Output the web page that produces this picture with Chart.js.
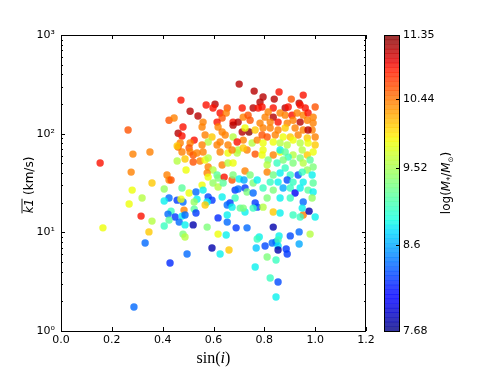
<!DOCTYPE html>
<html>
<head>
<meta charset="utf-8">
<script src="https://cdn.jsdelivr.net/npm/chart.js@4.4.0/dist/chart.umd.min.js"></script>
<style>
  html, body { margin: 0; padding: 0; background: #fff; }
  canvas { display: block; }
</style>
</head>
<body>
<canvas id="chart" width="491" height="368"></canvas>
<script>
// sin(i), mean k1 (km/s) and log(M*/Msun) for each galaxy
const sinI = [
  0.472,0.508,0.539,0.425,0.445,0.480,0.264,0.461,0.476,0.524,
  0.508,0.469,0.461,0.504,0.457,0.350,0.283,0.476,0.508,0.520,
  0.535,0.154,0.488,0.457,0.547,0.276,0.492,0.417,0.425,0.433,
  0.358,0.280,0.406,0.476,0.504,0.531,0.319,0.425,0.406,0.268,
  0.457,0.480,0.472,0.535,0.524,0.315,0.358,0.433,0.484,0.524,
  0.531,0.421,0.449,0.476,0.488,0.425,0.465,0.488,0.520,0.406,
  0.165,0.346,0.480,0.488,0.331,0.496,0.429,0.287,
  0.567,0.520,0.579,0.598,0.575,0.614,
  0.575,0.618,0.650,0.689,0.732,0.835,0.594,0.661,0.626,0.780,
  0.772,0.768,0.803,0.831,0.846,0.858,0.854,0.854,0.854,0.886,
  0.890,0.902,0.937,0.937,0.980,0.811,0.846,0.764,0.823,0.854,
  0.846,0.953,0.976,
  0.559,0.626,0.657,0.693,0.732,0.764,0.579,0.634,0.657,0.677,
  0.579,0.618,0.642,0.673,0.677,0.701,0.720,0.724,0.744,0.756,
  0.772,0.555,0.559,0.598,0.618,0.638,0.685,0.697,0.724,0.732,
  0.756,0.579,0.594,0.575,0.567,0.634,0.685,0.665,0.654,0.673,
  0.705,0.724,0.764,0.772,0.756,0.618,0.654,0.654,
  0.717,
  0.791,0.835,0.815,0.862,0.913,0.969,0.992,0.894,0.941,0.811,
  0.811,0.850,0.874,0.882,0.913,0.953,0.980,0.992,0.969,0.835,
  0.862,0.902,0.933,0.949,0.988,0.823,0.854,0.890,0.913,0.953,
  0.992,0.795,0.835,0.874,0.902,0.921,0.941,0.972,0.992,0.811,
  0.862,0.902,0.953,0.988,0.795,0.835,0.862,0.913,0.949,
  1.0,0.941,
  0.701,0.760,0.571,0.606,0.598,0.654,0.626,0.650,0.713,0.756,
  0.776,0.677,0.697,0.717,0.736,0.744,0.634,0.614,0.559,0.555,
  0.677,0.713,0.740,0.764,0.724,0.618,0.634,0.646,0.567,0.594,
  0.677,0.717,0.752,0.772,0.579,0.614,0.626,0.657,0.693,0.697,
  0.673,0.717,0.555,0.858,0.953,0.795,0.839,0.906,0.937,
  0.783,0.791,0.835,0.882,0.894,0.961,1.0,0.803,0.815,0.835,
  0.862,0.882,0.909,0.929,0.953,0.972,0.992,0.783,0.823,0.854,
  0.890,0.913,0.941,0.969,0.992,0.795,0.823,0.854,0.882,0.921,
  0.953,0.988,0.791,0.811,0.843,0.874,0.902,0.933,0.969,1.0,
  0.795,0.835,0.862,0.890,0.913,0.941,0.972,1.0,0.795,0.862,
  0.882,0.949,
  0.972,0.941
];
const k1 = [
  219,169,151,137,144,117,109,101,94.6,86.1,
  80.3,80.3,73.1,71.5,74.9,65.1,62.1,65.1,65.1,60.7,
  63.6,50.4,55.3,52.8,52.8,40.8,42.8,38.1,33.9,33.9,
  31.6,26.8,27.5,28.1,25.0,25.6,22.3,22.3,20.8,19.4,
  21.2,20.3,21.7,21.7,20.3,14.6,13.0,16.4,16.8,17.2,
  15.7,15.3,14.3,14.6,15.0,13.3,12.7,11.9,11.9,11.6,
  11.1,10.1,9.6,8.96,7.79,6.03,4.89,1.75,
  54.0,51.6,45.9,42.8,39.9,38.1,
  11.3,9.6,9.4,11.1,11.1,11.3,6.93,6.62,6.03,8.96,
  8.55,6.93,7.26,7.79,7.97,9.2,8.36,7.26,6.62,6.77,
  6.03,9.2,10.1,7.61,9.6,5.62,5.24,4.45,3.44,3.14,
  2.21,15.0,16.4,
  65.1,65.1,63.6,63.6,68.2,62.1,56.6,48.1,50.4,50.4,
  36.3,35.5,36.3,33.9,38.1,34.7,33.9,41.8,38.1,31.6,
  33.9,30.1,26.8,31.6,28.8,31.6,26.8,27.5,28.1,25.6,
  25.0,22.8,21.2,20.3,18.9,22.8,22.3,19.8,18.9,18.0,
  17.6,16.1,19.8,18.0,17.6,14.0,12.7,15.0,
  17.6,
  60.7,60.7,54.0,65.1,60.7,60.7,65.1,57.9,56.6,48.1,
  40.8,50.4,54.0,44.8,50.4,50.4,54.0,45.9,42.8,38.1,
  39.9,38.1,38.1,40.8,38.1,32.3,32.3,33.9,32.3,32.3,
  31.6,28.1,26.8,28.1,28.1,25.0,28.1,26.8,25.6,22.3,
  22.3,22.3,20.3,22.3,18.0,16.1,15.7,15.0,17.6,
  14.3,14.3,
  318,270,195,199,182,182,162,162,182,182,
  182,131,131,147,154,137,144,131,131,117,
  122,104,104,109,114,117,104,96.8,96.8,92.4,
  92.4,86.1,80.3,86.1,82.2,76.7,82.2,76.7,82.2,68.2,
  68.2,71.5,76.7,264,246,235,224,224,204,
  209,186,182,182,186,182,186,147,166,147,
  162,154,154,162,154,162,147,128,131,131,
  128,137,131,137,128,114,114,109,114,114,
  109,109,96.8,92.4,96.8,92.4,92.4,96.8,90.3,92.4,
  80.3,82.2,80.3,76.7,86.1,80.3,80.3,76.7,68.2,68.2,
  65.1,68.2,
  109,195
];
const logM = [
  10.9,11.15,11.15,10.6,10.4,10.9,10.6,11.15,10.9,10.9,
  10.4,10.4,10.6,10.6,10.1,10.4,10.4,10.4,10.4,10.6,
  10.4,10.9,10.1,9.6,10.4,10.4,9.87,10.4,10.4,10.6,
  10.1,9.87,9.45,9.2,9.87,8.4,9.6,8.4,8.85,9.87,
  8.25,8.4,9.87,8.85,9.45,10.9,9.6,9.05,10.4,9.2,
  8.25,8.4,8.25,8.85,8.4,9.2,8.4,8.85,7.8,9.05,
  9.87,10.1,9.35,9.6,8.4,8.4,8.2,8.4,
  9.87,10.6,10.4,9.6,10.4,9.2,
  9.35,9.87,8.85,8.25,8.4,7.8,7.8,10.1,8.85,8.85,
  9.05,8.7,8.3,8.4,8.4,8.85,9.05,8.8,7.8,8.25,
  8.25,8.3,8.4,8.6,9.6,9.35,9.05,8.85,9.05,8.3,
  8.85,10.4,7.8,
  10.4,10.4,9.87,9.6,10.4,10.6,9.6,10.4,9.6,9.87,
  9.87,9.35,10.9,10.6,9.35,8.85,8.6,10.4,9.35,9.35,
  8.85,9.87,8.85,9.45,9.6,9.2,8.25,8.4,8.25,9.35,
  8.4,8.3,8.25,8.85,10.1,8.85,9.05,8.25,8.4,8.85,
  9.2,8.85,8.25,8.3,9.05,8.2,8.4,8.85,
  9.35,
  9.87,10.4,9.35,9.87,9.6,10.1,9.87,9.05,9.35,9.6,
  10.4,9.05,9.35,9.05,9.35,9.6,9.2,9.35,9.45,9.3,
  8.85,9.05,8.3,9.05,8.85,9.05,8.85,8.3,9.05,8.85,
  9.2,9.05,9.35,8.6,9.05,8.0,8.85,9.2,8.85,9.35,
  8.85,9.05,8.4,9.45,9.6,10.1,8.85,9.05,8.85,
  8.85,9.05,
  11.15,11.15,10.9,11.15,10.9,10.6,10.9,10.4,10.9,11.15,
  10.9,10.9,11.15,10.4,10.6,10.6,10.6,10.9,10.4,10.4,
  11.15,11.15,11.3,10.1,9.87,10.4,10.4,10.4,10.4,10.1,
  9.6,10.4,9.6,10.4,9.6,10.4,10.4,10.4,10.9,9.6,
  10.4,10.1,10.4,10.9,10.9,11.15,11.15,10.6,11.15,
  11.15,10.9,10.9,11.15,10.9,10.9,10.6,10.4,10.4,11.15,
  10.4,10.4,10.9,10.4,10.4,10.9,10.4,10.4,10.4,10.9,
  10.4,10.4,11.15,10.4,10.4,10.4,10.4,10.4,10.1,10.4,
  10.4,10.4,10.6,10.6,10.4,9.87,10.1,10.4,10.1,10.4,
  9.87,9.87,9.6,9.6,9.87,9.6,9.87,10.1,9.87,8.85,
  9.2,9.6,
  11.15,10.9
];

const xTicks = [0, 0.2, 0.4, 0.6, 0.8, 1.0, 1.2];
const yTicks = [1, 10, 100, 1000];
const yTickLabels = ['10\u2070', '10\u00b9', '10\u00b2', '10\u00b3'];
const cbarTicks = [7.68, 8.6, 9.52, 10.44, 11.35];
// colour-norm fraction that each colorbar tick value maps to
const cbarStops = [0, 0.291, 0.55, 0.784, 1];

// matplotlib "jet"
const jetR = [[0,0],[0.35,0],[0.66,1],[0.89,1],[1,0.5]];
const jetG = [[0,0],[0.125,0],[0.375,1],[0.64,1],[0.91,0],[1,0]];
const jetB = [[0,0.5],[0.11,1],[0.34,1],[0.65,0],[1,0]];

function seg(s, f) {
    for (let i = 1; i < s.length; i++) {
        if (f <= s[i][0]) {
            const [x0, y0] = s[i-1], [x1, y1] = s[i];
            return y0 + (y1 - y0) * (f - x0) / (x1 - x0);
        }
    }
    return s[s.length-1][1];
}
function jet(f, a) {
    f = Math.max(0, Math.min(1, f));
    return `rgba(${Math.round(255*seg(jetR,f))},${Math.round(255*seg(jetG,f))},${Math.round(255*seg(jetB,f))},${a})`;
}
function massToFrac(m) {
    if (m <= cbarTicks[0]) return 0;
    for (let i = 1; i < cbarTicks.length; i++) {
        if (m <= cbarTicks[i]) {
            const t = (m - cbarTicks[i-1]) / (cbarTicks[i] - cbarTicks[i-1]);
            return cbarStops[i-1] + t * (cbarStops[i] - cbarStops[i-1]);
        }
    }
    return 1;
}

const points = sinI.map((x, i) => ({ x: x, y: k1[i] }));

function drawParts(ctx, parts, cx, cy, rot) {
    ctx.save();
    ctx.translate(cx, cy);
    ctx.rotate(rot);
    ctx.textAlign = 'left';
    ctx.textBaseline = 'alphabetic';
    let w = 0;
    parts.forEach(p => { ctx.font = p.font; p.w = ctx.measureText(p.t).width; w += p.w; });
    let x = -w / 2;
    parts.forEach(p => {
        ctx.font = p.font;
        ctx.fillText(p.t, x, p.dy || 0);
        if (p.over) {
            ctx.beginPath();
            ctx.moveTo(x, p.over); ctx.lineTo(x + p.w, p.over);
            ctx.stroke();
        }
        x += p.w;
    });
    ctx.restore();
}

const decor = {
    id: 'decor',
    afterDraw(chart) {
        const { ctx, chartArea: a, scales: { x, y, cb } } = chart;
        ctx.save();
        ctx.strokeStyle = '#000';
        ctx.fillStyle = '#000';
        ctx.lineWidth = 1;

        // inward ticks on all four sides
        ctx.beginPath();
        xTicks.forEach(v => {
            const px = Math.round(x.getPixelForValue(v)) + 0.5;
            ctx.moveTo(px, a.bottom); ctx.lineTo(px, a.bottom - 4);
            ctx.moveTo(px, a.top); ctx.lineTo(px, a.top + 4);
        });
        yTicks.forEach(v => {
            const py = Math.round(y.getPixelForValue(v)) + 0.5;
            ctx.moveTo(a.left, py); ctx.lineTo(a.left + 4, py);
            ctx.moveTo(a.right, py); ctx.lineTo(a.right - 4, py);
        });
        for (let d = 1; d < 1000; d *= 10) {
            for (let m = 2; m <= 9; m++) {
                const py = Math.round(y.getPixelForValue(m * d)) + 0.5;
                ctx.moveTo(a.left, py); ctx.lineTo(a.left + 2, py);
                ctx.moveTo(a.right, py); ctx.lineTo(a.right - 2, py);
            }
        }
        ctx.stroke();
        ctx.strokeRect(a.left + 0.5, a.top + 0.5, a.right - a.left - 1, a.bottom - a.top);

        // colorbar
        const cbL = a.right + 18, cbW = 15;
        const n = 64;
        for (let i = 0; i < n; i++) {
            const y0 = cb.getPixelForValue((i + 1) / n), y1 = cb.getPixelForValue(i / n);
            ctx.fillStyle = jet((i + 0.5) / n, 0.8);
            ctx.fillRect(cbL, y0, cbW, y1 - y0 + 0.5);
        }
        ctx.strokeRect(cbL + 0.5, cb.top + 0.5, cbW, cb.bottom - cb.top);
        ctx.fillStyle = '#000';
        ctx.font = '11px "DejaVu Sans"';
        ctx.textBaseline = 'middle';
        ctx.textAlign = 'left';
        ctx.beginPath();
        cbarTicks.forEach((v, i) => {
            const py = Math.round(cb.getPixelForValue(cbarStops[i])) + 0.5;
            ctx.moveTo(cbL + cbW + 0.5, py); ctx.lineTo(cbL + cbW - 3, py);
            ctx.fillText(String(v), cbL + cbW + 4, py);
        });
        ctx.stroke();

        // axis labels
        ctx.lineWidth = 0.9;
        drawParts(ctx, [
            { t: 'k1', font: 'italic 12px "DejaVu Sans"', over: -11 },
            { t: ' (km/s)', font: '12px "DejaVu Sans"' }
        ], 33, (a.top + a.bottom) / 2 + 2, -Math.PI / 2);
        drawParts(ctx, [
            { t: 'sin(', font: '16px "Liberation Serif"' },
            { t: 'i', font: 'italic 16px "Liberation Serif"' },
            { t: ')', font: '16px "Liberation Serif"' }
        ], (a.left + a.right) / 2, 363, 0);
        drawParts(ctx, [
            { t: 'log(', font: '12px "DejaVu Sans"' },
            { t: 'M', font: 'italic 12px "DejaVu Sans"' },
            { t: '*', font: '8px "DejaVu Sans"', dy: 3 },
            { t: '/', font: '12px "DejaVu Sans"' },
            { t: 'M', font: 'italic 12px "DejaVu Sans"' },
            { t: '\u2299', font: '7px "DejaVu Sans"', dy: 3 },
            { t: ')', font: '12px "DejaVu Sans"' }
        ], 450, (a.top + a.bottom) / 2, -Math.PI / 2);
        ctx.restore();
    }
};

Chart.defaults.font.family = '"DejaVu Sans"';
Chart.defaults.font.size = 11;
Chart.defaults.color = '#000';

new Chart(document.getElementById('chart'), {
    type: 'scatter',
    data: {
        datasets: [{
            data: points,
            pointRadius: 3.7,
            pointHoverRadius: 3.7,
            pointBorderWidth: 0,
            pointBackgroundColor: c => jet(massToFrac(logM[c.dataIndex]), 0.8)
        }]
    },
    options: {
        responsive: false,
        animation: false,
        events: [],
        layout: { padding: { left: 0, top: 35, right: 125, bottom: 0 } },
        plugins: { legend: { display: false }, tooltip: { enabled: false } },
        scales: {
            x: {
                type: 'linear', min: 0, max: 1.2,
                afterBuildTicks: s => { s.ticks = xTicks.map(v => ({ value: v })); },
                afterFit: s => { s.height = 37; },
                ticks: { callback: v => v.toFixed(1), padding: 3, maxRotation: 0, autoSkip: false },
                grid: { display: false, drawTicks: false },
                border: { display: false }
            },
            y: {
                type: 'logarithmic', min: 1, max: 1000,
                afterBuildTicks: s => { s.ticks = yTicks.map(v => ({ value: v })); },
                afterFit: s => { s.width = 61; },
                ticks: { callback: v => yTickLabels[yTicks.indexOf(v)], padding: 6, autoSkip: false },
                grid: { display: false, drawTicks: false },
                border: { display: false }
            },
            cb: {
                type: 'linear', axis: 'y', position: 'right', display: false, min: 0, max: 1
            }
        }
    },
    plugins: [decor]
});
</script>
</body>
</html>
